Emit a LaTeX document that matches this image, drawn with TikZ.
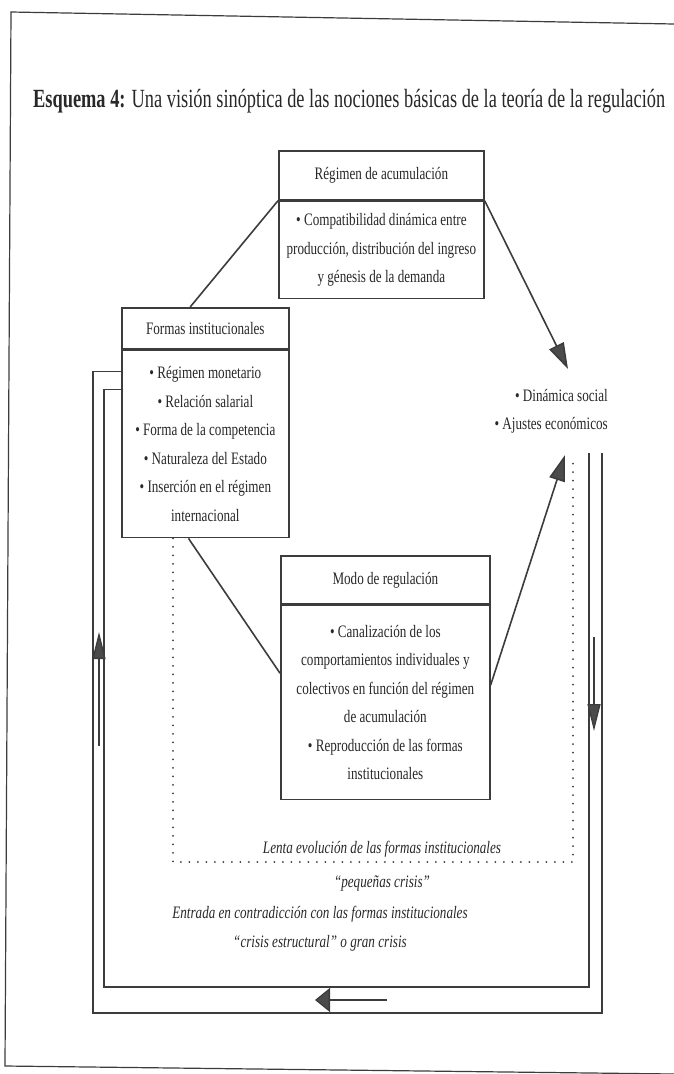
\documentclass[tikz,border=0pt]{standalone}
\usepackage{graphicx}
\usepackage{fontspec}
\setmainfont{Liberation Serif}[FakeStretch=0.75]
\newfontfamily\titlefont{Liberation Serif}[FakeStretch=0.7]
\usetikzlibrary{arrows.meta,calc}

\definecolor{ink}{RGB}{40,40,40}
\definecolor{rule}{RGB}{60,60,60}
\definecolor{tipc}{RGB}{75,75,75}

\tikzset{
  boxpart/.style={draw=rule, line width=1.7pt, inner sep=0pt, align=center,
    text=ink, font=\fontsize{17.5}{28.5}\selectfont, anchor=north west},
  label/.style={inner sep=0pt, text=ink, font=\fontsize{17.5}{28.5}\selectfont},
  note/.style={inner sep=0pt, text=ink, font=\fontsize{17.5}{28.5}\selectfont\itshape, anchor=base},
  conn/.style={draw=rule, line width=1.6pt},
  loopline/.style={draw=rule, line width=1.3pt},
  dotline/.style={draw=rule, line width=2pt, line cap=round, dash pattern=on 0pt off 8.5pt},
  bigtip/.style={-{Triangle[length=26pt,width=16pt,fill=tipc]}},
  sidetip/.style={-{Triangle[length=27pt,width=13pt,fill=tipc]}},
  lowtip/.style={-{Triangle[length=15pt,width=24pt,fill=tipc]}},
}

\begin{document}
\begin{tikzpicture}[x=1pt,y=-1pt]
  \useasboundingbox (0,0) rectangle (674,1074);
  \fill[white] (0,0) rectangle (674,1074);

  % page frame
  \draw[rule, line width=1.2pt] (674,24) -- (11,12) -- (5,1066) -- (674,1074);

  % title
  \node[anchor=base west, inner sep=0pt, text=ink] (title) at (33,107)
    {\resizebox{632pt}{!}{\titlefont\fontsize{22}{26}\selectfont\textbf{Esquema 4:} Una visión sinóptica de las nociones básicas de la teoría de la regulación}};

  % Régimen de acumulación
  \node[boxpart, minimum width=205pt, minimum height=49pt] (regH) at (278,150)
    {Régimen de acumulación};
  \node[boxpart, minimum width=205pt, minimum height=97pt] (regB) at (regH.south west)
    {• Compatibilidad dinámica entre\\producción, distribución del ingreso\\y génesis de la demanda};

  % Formas institucionales
  \node[boxpart, minimum width=167pt, minimum height=41pt] (forH) at (121,307)
    {Formas institucionales};
  \node[boxpart, minimum width=167pt, minimum height=187pt] (forB) at (forH.south west)
    {• Régimen monetario\\• Relación salarial\\• Forma de la competencia\\• Naturaleza del Estado\\• Inserción en el régimen\\internacional};

  % Modo de regulación
  \node[boxpart, minimum width=209pt, minimum height=48pt] (modH) at (280,555)
    {Modo de regulación};
  \node[boxpart, minimum width=209pt, minimum height=194pt] (modB) at (modH.south west)
    {• Canalización de los\\comportamientos individuales y\\colectivos en función del régimen\\de acumulación\\• Reproducción de las formas\\institucionales};

  % outcomes
  \node[label, anchor=base east] (dyn1) at (608,401) {• Dinámica social};
  \node[label, anchor=base east] (dyn2) at (608,429) {• Ajustes económicos};
  \coordinate (dtop) at (568,369);
  \coordinate (dbot) at (565,455);

  % links between the boxes
  \draw[conn] ($(forH.north west)!0.41!(forH.north east)$) -- (regH.south west);
  \draw[conn, bigtip] (regH.south east) -- (dtop);
  \draw[conn] ($(forB.south west)!0.4!(forB.south east)$) -- ($(modB.north west)!0.35!(modB.south west)$);
  \draw[conn, bigtip] ($(modB.north east)!0.41!(modB.south east)$) -- (dbot);

  % slow evolution: dotted loop
  \coordinate (dotBR) at (573,862);
  \coordinate (dotTR) at (573,456);
  \draw[dotline] ($(forB.south west)+(52,0)$) |- (dotBR) -- (dotTR);
  \node[note] (lenta) at (382,853) {Lenta evolución de las formas institucionales};
  \node[note] (peq) at (382,887) {“pequeñas crisis”};

  % structural crisis: double loop
  \coordinate (inR) at (589,453);
  \coordinate (inB) at (104,987);
  \coordinate (outR) at (602,453);
  \coordinate (outB) at (93,1013);
  \draw[loopline] (inR) |- (inB) |- ($(forB.north west)+(0,40)$);
  \draw[loopline] (outR) |- (outB) |- ($(forB.north west)+(0,22)$);
  \node[note] (entrada) at (320,918) {Entrada en contradicción con las formas institucionales};
  \node[note] (gran) at (320,947) {“crisis estructural” o gran crisis};

  % direction marks on the loop
  \coordinate (ra1) at (594,637);
  \coordinate (ra2) at (594,731);
  \draw[loopline, sidetip] (ra1) -- (ra2);
  \coordinate (la1) at (99,746);
  \coordinate (la2) at (99,632);
  \draw[loopline, sidetip] (la1) -- (la2);
  \coordinate (ba1) at (387,1000);
  \coordinate (ba2) at (315,1000);
  \draw[loopline, lowtip] (ba1) -- (ba2);
\end{tikzpicture}
\end{document}
